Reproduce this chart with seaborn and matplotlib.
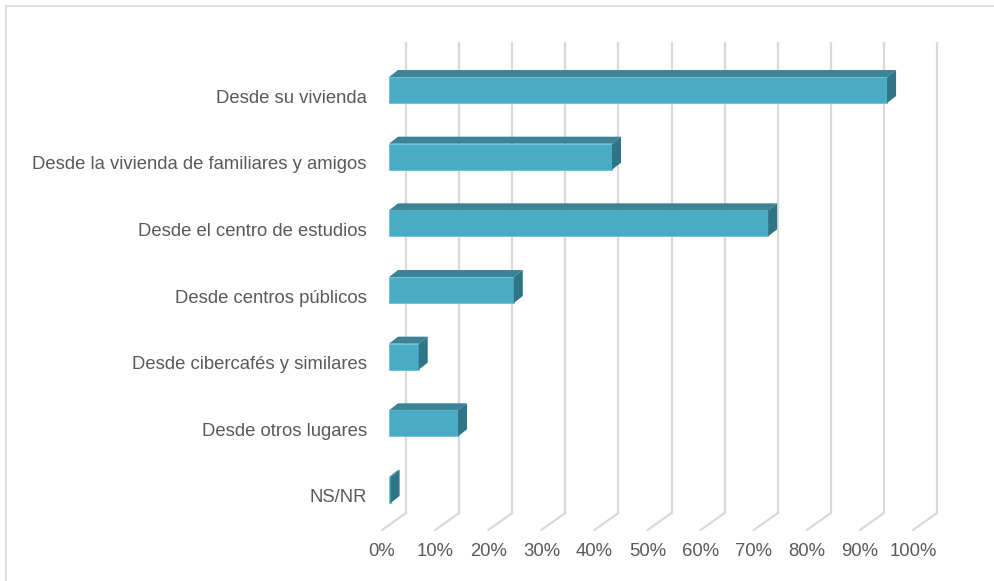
import matplotlib
matplotlib.use("Agg")
import matplotlib.pyplot as plt
import matplotlib.transforms as mtransforms
from matplotlib.patches import Polygon
from matplotlib.lines import Line2D
import seaborn as sns
import pandas as pd

# data
categories = [
    "Desde su vivienda",
    "Desde la vivienda de familiares y amigos",
    "Desde el centro de estudios",
    "Desde centros públicos",
    "Desde cibercafés y similares",
    "Desde otros lugares",
    "NS/NR",
]
percentages = [93.8, 42.0, 71.4, 23.5, 5.6, 13.0, 0.3]
x_ticks = [0, 10, 20, 30, 40, 50, 60, 70, 80, 90, 100]
x_tick_labels = [f"{t}%" for t in x_ticks]

FRONT = "#4aabc5"
TOP = "#3c8397"
SIDE = "#2f7487"
GRID = "#d9d9d9"
TEXT = "#595959"

sns.set_theme(style="white")
plt.rcParams["font.family"] = ["Liberation Sans", "DejaVu Sans"]

W, H = 995, 581
fig = plt.figure(figsize=(W / 100, H / 100), dpi=100)

# axes box in pixels (front face of bars starts at x=389)
x0_px, x_span_px = 389, 531
y_top_px, y_bot_px = 56.7, 523.3
ax = fig.add_axes([x0_px / W, 1 - y_bot_px / H, x_span_px / W, (y_bot_px - y_top_px) / H])

df = pd.DataFrame({"lugar": categories, "pct": percentages})
sns.barplot(data=df, x="pct", y="lugar", orient="h", color=FRONT, saturation=1,
            width=0.39, ax=ax, zorder=3, edgecolor="#6cc0d6", linewidth=0.6)

ax.set_xlim(0, 100)
ax.set_ylim(6.5, -0.5)

px_x = x_span_px / 100.0           # pixels per percent
px_y = (y_bot_px - y_top_px) / 7.0  # pixels per category slot

def dx(p):
    return p / px_x

def dy(p):
    return p / px_y

# 3D look: top and side faces for each bar
bdx, bdy = dx(9), -dy(7)
for p in ax.patches:
    x0, yt, w, h = p.get_x(), p.get_y(), p.get_width(), p.get_height()
    top = Polygon([(x0, yt), (x0 + w, yt), (x0 + w + bdx, yt + bdy), (x0 + bdx, yt + bdy)],
                  closed=True, facecolor=TOP, edgecolor="none", zorder=3)
    side = Polygon([(x0 + w, yt), (x0 + w + bdx, yt + bdy), (x0 + w + bdx, yt + h + bdy), (x0 + w, yt + h)],
                   closed=True, facecolor=SIDE, edgecolor="none", zorder=3)
    ax.add_patch(top)
    ax.add_patch(side)

# back wall gridlines + floor diagonals
y_of = lambda px: (px - 90) / px_y
for t in x_ticks:
    xf = t - dx(7)
    xb = t + dx(17)
    ax.plot([xb, xb], [y_of(513), y_of(43)], color=GRID, lw=1.6, zorder=1, clip_on=False)
    ax.plot([xf, xb], [y_of(530), y_of(513)], color=GRID, lw=1.6, zorder=1, clip_on=False)

ax.set_xticks(x_ticks)
ax.set_xticklabels(x_tick_labels, fontsize=13.3, color=TEXT)
ax.tick_params(axis="x", length=0, pad=14)
ax.tick_params(axis="y", length=0, pad=16)
ax.set_yticks(range(len(categories)))
ax.set_yticklabels(categories, fontsize=13.3, color=TEXT)
for lab in ax.get_xticklabels():
    lab.set_transform(lab.get_transform() + mtransforms.ScaledTranslation(-7 / 100, 0, fig.dpi_scale_trans))
for lab in ax.get_yticklabels():
    lab.set_transform(lab.get_transform() + mtransforms.ScaledTranslation(0, -6 / 100, fig.dpi_scale_trans))

ax.set_xlabel("")
ax.set_ylabel("")
for s in ax.spines.values():
    s.set_visible(False)
ax.grid(False)

# chart frame (left and top edges visible)
fig.add_artist(Line2D([6 / W, 6 / W], [0, 1 - 6 / H], transform=fig.transFigure, color=GRID, lw=1.2))
fig.add_artist(Line2D([6 / W, 1], [1 - 6 / H, 1 - 6 / H], transform=fig.transFigure, color=GRID, lw=1.2))

fig.savefig("out.png", dpi=100, facecolor="white")
